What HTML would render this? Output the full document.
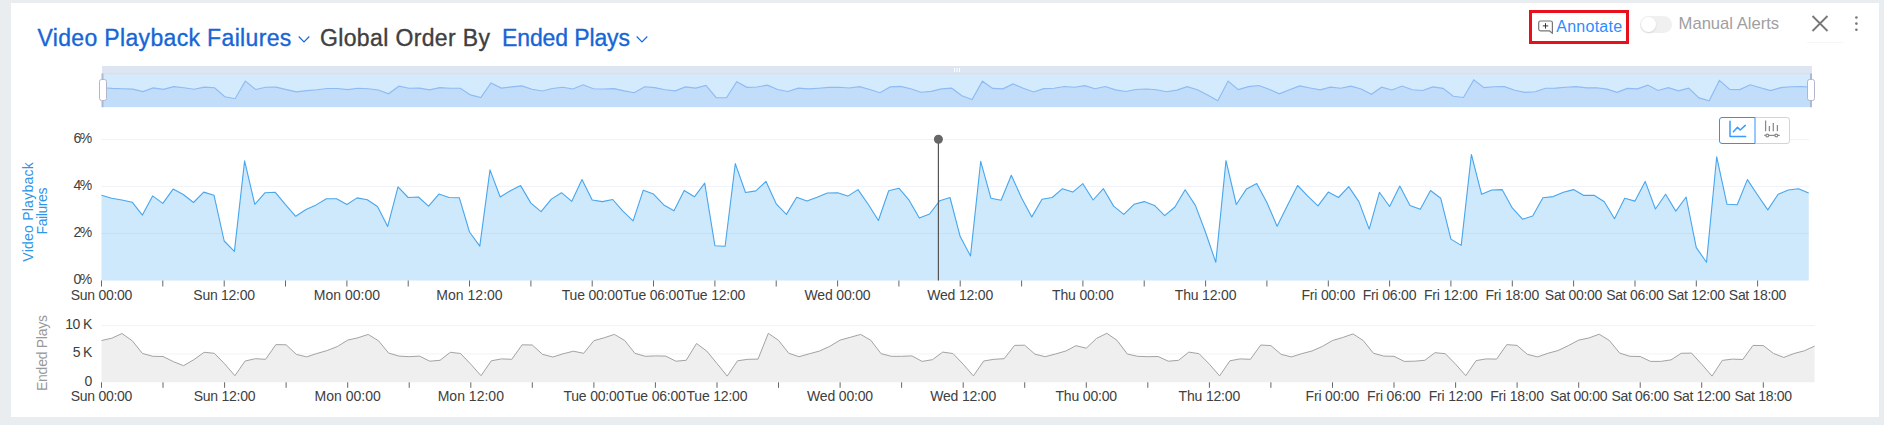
<!DOCTYPE html>
<html lang="en">
<head>
<meta charset="utf-8">
<title>Video Playback Failures</title>
<style>
html,body{margin:0;padding:0}
body{width:1884px;height:425px;overflow:hidden;background:#e9edf0;position:relative;font-family:"Liberation Sans",sans-serif}
.card{position:absolute;left:11px;top:3px;width:1868px;height:414px;background:#fff}
.title{position:absolute;left:37px;top:22px;height:32px;line-height:32px;font-size:23px;white-space:nowrap;color:#404040}
.title span{position:absolute;top:0;white-space:nowrap;-webkit-text-stroke:0.35px currentColor}
.blue{color:#1766d6}
.chev{position:absolute}
.annot-box{position:absolute;left:1529px;top:10px;width:94px;height:28px;border:3px solid #e6111c}
.annot{position:absolute;left:1556.3px;top:14.5px;font-size:16px;letter-spacing:0.25px;line-height:24px;color:#2d8cff;white-space:nowrap}
.switch{position:absolute;left:1640px;top:16px;width:32px;height:17px;border-radius:9px;background:#f0f0f0}
.switch i{position:absolute;left:1px;top:1px;width:15px;height:15px;border-radius:50%;background:#fff;box-shadow:0 1px 2px rgba(0,0,0,.12)}
.manual{position:absolute;left:1678.6px;top:12px;font-size:16.6px;line-height:24px;color:#a0a0a0;white-space:nowrap}
.underline{position:absolute;left:1807px;top:42px;width:36px;height:1px;background:#f6f6f8}
</style>
</head>
<body>
<div class="card"></div>
<div class="title">
<span class="blue" id="t1" style="left:0.5px;letter-spacing:0.34px">Video Playback Failures</span>
<span id="t2" style="left:283px;letter-spacing:0.36px">Global Order By</span>
<span class="blue" id="t3" style="left:465px;letter-spacing:-0.12px">Ended Plays</span>
</div>
<svg class="chev" style="left:298px;top:35px" width="12" height="9" viewBox="0 0 12 9"><path d="M0.7 1.5 L6 7 L11.3 1.5" fill="none" stroke="#1766d6" stroke-width="1.1"/></svg>
<svg class="chev" style="left:636px;top:35px" width="12" height="9" viewBox="0 0 12 9"><path d="M0.7 1.5 L6 7 L11.3 1.5" fill="none" stroke="#1766d6" stroke-width="1.1"/></svg>
<div class="annot-box"></div>
<div class="annot" id="annot">Annotate</div>
<div class="switch"><i></i></div>
<div class="manual" id="manual">Manual Alerts</div>
<div class="underline"></div>
<svg width="1884" height="425" viewBox="0 0 1884 425" style="position:absolute;left:0;top:0">
<g id="navigator">
<rect x="102" y="66" width="1710" height="8.5" fill="#dde5f3"/>
<rect x="102" y="73.3" width="1710" height="1.4" fill="#d5dff1"/>
<rect x="102" y="74.7" width="1710" height="32.5" fill="#d4eafd"/>
<polygon points="102.0,107 102.0,87.8 112.2,88.4 122.5,88.7 132.7,89.1 142.9,91.6 153.2,87.9 163.4,89.4 173.7,86.6 183.9,87.7 194.1,89.2 204.4,87.2 214.6,87.8 224.8,96.7 235.1,98.7 245.3,81.1 255.6,89.5 265.8,87.3 276.0,87.2 286.3,89.6 296.5,91.9 306.7,90.6 317.0,89.7 327.2,88.5 337.5,88.5 347.7,89.6 357.9,88.3 368.2,88.7 378.4,90.0 388.6,93.8 398.9,86.2 409.1,88.2 419.3,88.1 429.6,89.9 439.8,87.6 450.1,88.2 460.3,88.3 470.5,94.9 480.8,97.6 491.0,82.9 501.2,88.1 511.5,86.9 521.7,85.9 532.0,89.3 542.2,91.0 552.4,88.5 562.7,87.3 572.9,89.0 583.1,84.8 593.4,88.7 603.6,89.0 613.9,88.6 624.1,90.9 634.3,92.7 644.6,86.8 654.8,87.6 665.0,89.7 675.3,90.8 685.5,86.9 695.7,88.1 706.0,85.5 716.2,97.6 726.5,97.7 736.7,81.7 746.9,87.3 757.2,87.0 767.4,85.1 777.6,89.5 787.9,91.5 798.1,88.2 808.4,88.9 818.6,88.2 828.8,87.4 839.1,87.3 849.3,88.0 859.5,86.7 869.8,89.5 880.0,92.7 890.2,86.9 900.5,86.4 910.7,88.8 921.0,92.2 931.2,91.4 941.4,88.9 951.7,88.2 961.9,95.8 972.1,99.5 982.4,81.2 992.6,88.4 1002.9,88.8 1013.1,83.9 1023.3,88.3 1033.6,92.0 1043.8,88.6 1054.0,88.2 1064.3,86.5 1074.5,87.2 1084.8,85.6 1095.0,88.7 1105.2,86.5 1115.5,89.9 1125.7,91.5 1135.9,89.5 1146.2,89.0 1156.4,89.8 1166.6,91.7 1176.9,90.1 1187.1,86.7 1197.4,89.8 1207.6,95.0 1217.8,100.8 1228.1,81.1 1238.3,89.6 1248.5,86.6 1258.8,85.5 1269.0,89.2 1279.3,93.8 1289.5,89.8 1299.7,85.9 1310.0,88.0 1320.2,89.9 1330.4,87.2 1340.7,88.2 1350.9,86.1 1361.2,89.0 1371.4,94.3 1381.6,87.2 1391.9,90.0 1402.1,86.0 1412.3,89.8 1422.6,90.5 1432.8,86.9 1443.0,88.4 1453.3,96.3 1463.5,97.5 1473.8,79.9 1484.0,87.6 1494.2,86.8 1504.5,86.7 1514.7,90.2 1524.9,92.4 1535.2,91.8 1545.4,88.3 1555.7,88.1 1565.9,87.2 1576.1,86.7 1586.4,87.8 1596.6,87.8 1606.8,89.1 1617.1,92.3 1627.3,88.4 1637.5,88.9 1647.8,85.1 1658.0,90.5 1668.3,87.6 1678.5,90.9 1688.7,88.1 1699.0,97.9 1709.2,100.8 1719.4,80.4 1729.7,89.5 1739.9,89.6 1750.2,84.8 1760.4,87.7 1770.6,90.6 1780.9,87.6 1791.1,86.8 1801.3,86.5 1811.6,87.4 1811.6,107" fill="#c2ddfa"/>
<polyline points="102.0,87.8 112.2,88.4 122.5,88.7 132.7,89.1 142.9,91.6 153.2,87.9 163.4,89.4 173.7,86.6 183.9,87.7 194.1,89.2 204.4,87.2 214.6,87.8 224.8,96.7 235.1,98.7 245.3,81.1 255.6,89.5 265.8,87.3 276.0,87.2 286.3,89.6 296.5,91.9 306.7,90.6 317.0,89.7 327.2,88.5 337.5,88.5 347.7,89.6 357.9,88.3 368.2,88.7 378.4,90.0 388.6,93.8 398.9,86.2 409.1,88.2 419.3,88.1 429.6,89.9 439.8,87.6 450.1,88.2 460.3,88.3 470.5,94.9 480.8,97.6 491.0,82.9 501.2,88.1 511.5,86.9 521.7,85.9 532.0,89.3 542.2,91.0 552.4,88.5 562.7,87.3 572.9,89.0 583.1,84.8 593.4,88.7 603.6,89.0 613.9,88.6 624.1,90.9 634.3,92.7 644.6,86.8 654.8,87.6 665.0,89.7 675.3,90.8 685.5,86.9 695.7,88.1 706.0,85.5 716.2,97.6 726.5,97.7 736.7,81.7 746.9,87.3 757.2,87.0 767.4,85.1 777.6,89.5 787.9,91.5 798.1,88.2 808.4,88.9 818.6,88.2 828.8,87.4 839.1,87.3 849.3,88.0 859.5,86.7 869.8,89.5 880.0,92.7 890.2,86.9 900.5,86.4 910.7,88.8 921.0,92.2 931.2,91.4 941.4,88.9 951.7,88.2 961.9,95.8 972.1,99.5 982.4,81.2 992.6,88.4 1002.9,88.8 1013.1,83.9 1023.3,88.3 1033.6,92.0 1043.8,88.6 1054.0,88.2 1064.3,86.5 1074.5,87.2 1084.8,85.6 1095.0,88.7 1105.2,86.5 1115.5,89.9 1125.7,91.5 1135.9,89.5 1146.2,89.0 1156.4,89.8 1166.6,91.7 1176.9,90.1 1187.1,86.7 1197.4,89.8 1207.6,95.0 1217.8,100.8 1228.1,81.1 1238.3,89.6 1248.5,86.6 1258.8,85.5 1269.0,89.2 1279.3,93.8 1289.5,89.8 1299.7,85.9 1310.0,88.0 1320.2,89.9 1330.4,87.2 1340.7,88.2 1350.9,86.1 1361.2,89.0 1371.4,94.3 1381.6,87.2 1391.9,90.0 1402.1,86.0 1412.3,89.8 1422.6,90.5 1432.8,86.9 1443.0,88.4 1453.3,96.3 1463.5,97.5 1473.8,79.9 1484.0,87.6 1494.2,86.8 1504.5,86.7 1514.7,90.2 1524.9,92.4 1535.2,91.8 1545.4,88.3 1555.7,88.1 1565.9,87.2 1576.1,86.7 1586.4,87.8 1596.6,87.8 1606.8,89.1 1617.1,92.3 1627.3,88.4 1637.5,88.9 1647.8,85.1 1658.0,90.5 1668.3,87.6 1678.5,90.9 1688.7,88.1 1699.0,97.9 1709.2,100.8 1719.4,80.4 1729.7,89.5 1739.9,89.6 1750.2,84.8 1760.4,87.7 1770.6,90.6 1780.9,87.6 1791.1,86.8 1801.3,86.5 1811.6,87.4" fill="none" stroke="#8ebbf3" stroke-width="1.15"/>
<rect x="101.5" y="73.5" width="2" height="33.7" fill="#a9b9d6"/>
<rect x="1810" y="73.5" width="2" height="33.7" fill="#a9b9d6"/>
<rect x="954.0" y="68" width="1" height="4" fill="#ffffff"/>
<rect x="956.5" y="68" width="1" height="4" fill="#ffffff"/>
<rect x="959.0" y="68" width="1" height="4" fill="#ffffff"/>
<rect x="99.5" y="79.5" width="7" height="21" rx="2" fill="#fff" stroke="#b3b5cb" stroke-width="1"/>
<rect x="1807.5" y="79.5" width="7" height="21" rx="2" fill="#fff" stroke="#b3b5cb" stroke-width="1"/>
</g>
<g id="main-chart" font-family="'Liberation Sans', sans-serif" font-size="14" fill="#404040">
<rect x="101" y="139.0" width="1708" height="1" fill="#f2f3f8"/>
<rect x="101" y="186.0" width="1708" height="1" fill="#f2f3f8"/>
<rect x="101" y="233.0" width="1708" height="1" fill="#f2f3f8"/>
<polygon points="101.5,280.5 101.5,195.2 111.7,198.2 121.9,200.0 132.2,202.2 142.4,215.1 152.6,195.9 162.8,203.4 173.1,189.1 183.3,194.5 193.5,202.5 203.7,192.1 214.0,195.2 224.2,241.0 234.4,251.4 244.6,160.9 254.8,204.3 265.1,192.7 275.3,192.3 285.5,204.7 295.7,216.3 306.0,209.5 316.2,204.9 326.4,198.8 336.6,198.8 346.9,204.5 357.1,197.9 367.3,199.7 377.5,206.5 387.7,226.4 398.0,186.9 408.2,197.5 418.4,197.0 428.6,206.1 438.9,194.1 449.1,197.5 459.3,197.7 469.5,232.0 479.8,246.1 490.0,169.9 500.2,197.0 510.4,190.7 520.6,185.6 530.9,203.1 541.1,211.7 551.3,199.1 561.5,192.7 571.8,201.3 582.0,179.6 592.2,200.0 602.4,201.6 612.7,199.5 622.9,211.1 633.1,220.8 643.3,190.2 653.5,194.1 663.8,204.9 674.0,210.8 684.2,190.5 694.4,196.8 704.7,183.2 714.9,245.7 725.1,246.2 735.3,163.6 745.5,192.5 755.8,190.9 766.0,181.4 776.2,203.8 786.4,214.4 796.7,197.3 806.9,201.1 817.1,197.3 827.3,193.0 837.6,192.7 847.8,196.1 858.0,189.6 868.2,204.3 878.4,220.5 888.7,190.7 898.9,188.2 909.1,200.2 919.3,218.1 929.6,214.0 939.8,200.7 950.0,197.5 960.2,236.6 970.5,255.9 980.7,161.3 990.9,198.2 1001.1,200.2 1011.3,175.3 1021.6,197.9 1031.8,216.9 1042.0,199.3 1052.2,197.5 1062.5,188.7 1072.7,192.1 1082.9,183.7 1093.1,200.0 1103.4,188.7 1113.6,206.1 1123.8,214.4 1134.0,204.3 1144.2,201.6 1154.5,205.4 1164.7,215.6 1174.9,207.0 1185.1,189.8 1195.4,205.4 1205.6,232.5 1215.8,262.3 1226.0,160.6 1236.3,204.5 1246.5,188.9 1256.7,183.5 1266.9,202.5 1277.1,226.2 1287.4,205.4 1297.6,185.5 1307.8,196.1 1318.0,205.9 1328.3,192.1 1338.5,197.5 1348.7,186.6 1358.9,201.6 1369.2,229.1 1379.4,192.3 1389.6,206.5 1399.8,186.0 1410.0,205.6 1420.3,209.2 1430.5,190.5 1440.7,198.2 1450.9,239.1 1461.2,245.4 1471.4,154.5 1481.6,194.3 1491.8,190.0 1502.1,189.6 1512.3,207.9 1522.5,219.2 1532.7,216.0 1542.9,197.7 1553.2,196.6 1563.4,192.3 1573.6,189.6 1583.8,195.4 1594.1,195.2 1604.3,201.8 1614.5,218.7 1624.7,198.2 1635.0,201.1 1645.2,181.4 1655.4,209.0 1665.6,194.3 1675.8,211.1 1686.1,197.0 1696.3,247.6 1706.5,262.3 1716.7,156.8 1727.0,204.3 1737.2,204.7 1747.4,179.6 1757.6,195.0 1767.8,209.9 1778.1,194.3 1788.3,190.0 1798.5,188.7 1808.7,193.0 1808.7,280.5" fill="#3da3f3" fill-opacity="0.25"/>
<polyline points="101.5,195.2 111.7,198.2 121.9,200.0 132.2,202.2 142.4,215.1 152.6,195.9 162.8,203.4 173.1,189.1 183.3,194.5 193.5,202.5 203.7,192.1 214.0,195.2 224.2,241.0 234.4,251.4 244.6,160.9 254.8,204.3 265.1,192.7 275.3,192.3 285.5,204.7 295.7,216.3 306.0,209.5 316.2,204.9 326.4,198.8 336.6,198.8 346.9,204.5 357.1,197.9 367.3,199.7 377.5,206.5 387.7,226.4 398.0,186.9 408.2,197.5 418.4,197.0 428.6,206.1 438.9,194.1 449.1,197.5 459.3,197.7 469.5,232.0 479.8,246.1 490.0,169.9 500.2,197.0 510.4,190.7 520.6,185.6 530.9,203.1 541.1,211.7 551.3,199.1 561.5,192.7 571.8,201.3 582.0,179.6 592.2,200.0 602.4,201.6 612.7,199.5 622.9,211.1 633.1,220.8 643.3,190.2 653.5,194.1 663.8,204.9 674.0,210.8 684.2,190.5 694.4,196.8 704.7,183.2 714.9,245.7 725.1,246.2 735.3,163.6 745.5,192.5 755.8,190.9 766.0,181.4 776.2,203.8 786.4,214.4 796.7,197.3 806.9,201.1 817.1,197.3 827.3,193.0 837.6,192.7 847.8,196.1 858.0,189.6 868.2,204.3 878.4,220.5 888.7,190.7 898.9,188.2 909.1,200.2 919.3,218.1 929.6,214.0 939.8,200.7 950.0,197.5 960.2,236.6 970.5,255.9 980.7,161.3 990.9,198.2 1001.1,200.2 1011.3,175.3 1021.6,197.9 1031.8,216.9 1042.0,199.3 1052.2,197.5 1062.5,188.7 1072.7,192.1 1082.9,183.7 1093.1,200.0 1103.4,188.7 1113.6,206.1 1123.8,214.4 1134.0,204.3 1144.2,201.6 1154.5,205.4 1164.7,215.6 1174.9,207.0 1185.1,189.8 1195.4,205.4 1205.6,232.5 1215.8,262.3 1226.0,160.6 1236.3,204.5 1246.5,188.9 1256.7,183.5 1266.9,202.5 1277.1,226.2 1287.4,205.4 1297.6,185.5 1307.8,196.1 1318.0,205.9 1328.3,192.1 1338.5,197.5 1348.7,186.6 1358.9,201.6 1369.2,229.1 1379.4,192.3 1389.6,206.5 1399.8,186.0 1410.0,205.6 1420.3,209.2 1430.5,190.5 1440.7,198.2 1450.9,239.1 1461.2,245.4 1471.4,154.5 1481.6,194.3 1491.8,190.0 1502.1,189.6 1512.3,207.9 1522.5,219.2 1532.7,216.0 1542.9,197.7 1553.2,196.6 1563.4,192.3 1573.6,189.6 1583.8,195.4 1594.1,195.2 1604.3,201.8 1614.5,218.7 1624.7,198.2 1635.0,201.1 1645.2,181.4 1655.4,209.0 1665.6,194.3 1675.8,211.1 1686.1,197.0 1696.3,247.6 1706.5,262.3 1716.7,156.8 1727.0,204.3 1737.2,204.7 1747.4,179.6 1757.6,195.0 1767.8,209.9 1778.1,194.3 1788.3,190.0 1798.5,188.7 1808.7,193.0" fill="none" stroke="#47a6ee" stroke-width="1.1" stroke-linejoin="round"/>
<rect x="101.0" y="280.5" width="1" height="6" fill="#666"/>
<rect x="162.3" y="280.5" width="1" height="6" fill="#666"/>
<rect x="223.7" y="280.5" width="1" height="6" fill="#666"/>
<rect x="285.0" y="280.5" width="1" height="6" fill="#666"/>
<rect x="346.4" y="280.5" width="1" height="6" fill="#666"/>
<rect x="407.7" y="280.5" width="1" height="6" fill="#666"/>
<rect x="469.0" y="280.5" width="1" height="6" fill="#666"/>
<rect x="530.4" y="280.5" width="1" height="6" fill="#666"/>
<rect x="591.7" y="280.5" width="1" height="6" fill="#666"/>
<rect x="653.0" y="280.5" width="1" height="6" fill="#666"/>
<rect x="714.4" y="280.5" width="1" height="6" fill="#666"/>
<rect x="775.7" y="280.5" width="1" height="6" fill="#666"/>
<rect x="837.1" y="280.5" width="1" height="6" fill="#666"/>
<rect x="898.4" y="280.5" width="1" height="6" fill="#666"/>
<rect x="959.7" y="280.5" width="1" height="6" fill="#666"/>
<rect x="1021.1" y="280.5" width="1" height="6" fill="#666"/>
<rect x="1082.4" y="280.5" width="1" height="6" fill="#666"/>
<rect x="1143.7" y="280.5" width="1" height="6" fill="#666"/>
<rect x="1205.1" y="280.5" width="1" height="6" fill="#666"/>
<rect x="1266.4" y="280.5" width="1" height="6" fill="#666"/>
<rect x="1327.8" y="280.5" width="1" height="6" fill="#666"/>
<rect x="1389.1" y="280.5" width="1" height="6" fill="#666"/>
<rect x="1450.4" y="280.5" width="1" height="6" fill="#666"/>
<rect x="1511.8" y="280.5" width="1" height="6" fill="#666"/>
<rect x="1573.1" y="280.5" width="1" height="6" fill="#666"/>
<rect x="1634.5" y="280.5" width="1" height="6" fill="#666"/>
<rect x="1695.8" y="280.5" width="1" height="6" fill="#666"/>
<rect x="1757.1" y="280.5" width="1" height="6" fill="#666"/>
<text x="101.5" y="300" text-anchor="middle" textLength="61.7" lengthAdjust="spacing">Sun 00:00</text>
<text x="224.2" y="300" text-anchor="middle" textLength="61.7" lengthAdjust="spacing">Sun 12:00</text>
<text x="346.9" y="300" text-anchor="middle" textLength="66.3" lengthAdjust="spacing">Mon 00:00</text>
<text x="469.5" y="300" text-anchor="middle" textLength="66.3" lengthAdjust="spacing">Mon 12:00</text>
<text x="592.2" y="300" text-anchor="middle" textLength="61.0" lengthAdjust="spacing">Tue 00:00</text>
<text x="653.5" y="300" text-anchor="middle" textLength="61.0" lengthAdjust="spacing">Tue 06:00</text>
<text x="714.9" y="300" text-anchor="middle" textLength="61.0" lengthAdjust="spacing">Tue 12:00</text>
<text x="837.6" y="300" text-anchor="middle" textLength="66.1" lengthAdjust="spacing">Wed 00:00</text>
<text x="960.2" y="300" text-anchor="middle" textLength="66.1" lengthAdjust="spacing">Wed 12:00</text>
<text x="1082.9" y="300" text-anchor="middle" textLength="61.7" lengthAdjust="spacing">Thu 00:00</text>
<text x="1205.6" y="300" text-anchor="middle" textLength="61.7" lengthAdjust="spacing">Thu 12:00</text>
<text x="1328.3" y="300" text-anchor="middle" textLength="53.8" lengthAdjust="spacing">Fri 00:00</text>
<text x="1389.6" y="300" text-anchor="middle" textLength="53.8" lengthAdjust="spacing">Fri 06:00</text>
<text x="1450.9" y="300" text-anchor="middle" textLength="53.8" lengthAdjust="spacing">Fri 12:00</text>
<text x="1512.3" y="300" text-anchor="middle" textLength="53.8" lengthAdjust="spacing">Fri 18:00</text>
<text x="1573.6" y="300" text-anchor="middle" textLength="57.5" lengthAdjust="spacing">Sat 00:00</text>
<text x="1635.0" y="300" text-anchor="middle" textLength="57.5" lengthAdjust="spacing">Sat 06:00</text>
<text x="1696.3" y="300" text-anchor="middle" textLength="57.5" lengthAdjust="spacing">Sat 12:00</text>
<text x="1757.6" y="300" text-anchor="middle" textLength="57.5" lengthAdjust="spacing">Sat 18:00</text>
<text x="92.3" y="143.4" text-anchor="end" textLength="18.8" lengthAdjust="spacing">6%</text>
<text x="92.3" y="190.4" text-anchor="end" textLength="18.8" lengthAdjust="spacing">4%</text>
<text x="92.3" y="237.4" text-anchor="end" textLength="18.8" lengthAdjust="spacing">2%</text>
<text x="92.3" y="284.4" text-anchor="end" textLength="18.8" lengthAdjust="spacing">0%</text>
<text transform="translate(32.5,212) rotate(-90)" text-anchor="middle" font-size="14" fill="#2e95e8" textLength="99.4" lengthAdjust="spacing">Video Playback</text>
<text transform="translate(46.5,211) rotate(-90)" text-anchor="middle" font-size="14" fill="#2e95e8" textLength="46.8" lengthAdjust="spacing">Failures</text>
<circle cx="938.4" cy="139.3" r="5.4" fill="#fff"/>
<rect x="937.8" y="139" width="1.2" height="141.5" fill="#555"/>
<circle cx="938.4" cy="139.3" r="4.5" fill="#666"/>
</g>
<g id="bottom-chart" font-family="'Liberation Sans', sans-serif" font-size="14" fill="#404040">
<rect x="101" y="325.1" width="1714" height="1" fill="#f2f3f8"/>
<rect x="101" y="353.4" width="1714" height="1" fill="#f2f3f8"/>
<polygon points="101.5,382.3 101.5,340.5 111.8,338.2 122.0,333.5 132.3,340.8 142.5,353.5 152.8,356.3 163.0,356.5 173.3,361.6 183.6,365.7 193.8,359.7 204.1,352.3 214.3,353.3 224.6,363.8 234.9,375.7 245.1,361.0 255.4,358.7 265.6,359.3 275.9,344.6 286.1,344.8 296.4,354.4 306.7,356.9 316.9,353.5 327.2,350.5 337.4,346.5 347.7,340.1 357.9,337.8 368.2,334.4 378.5,340.8 388.7,353.1 399.0,356.1 409.2,356.7 419.5,356.1 429.8,361.2 440.0,360.3 450.3,352.3 460.5,353.5 470.8,364.2 481.0,375.7 491.3,360.8 501.6,358.9 511.8,359.3 522.1,344.8 532.3,345.0 542.6,354.4 552.9,357.0 563.1,353.8 573.4,351.2 583.6,353.3 593.9,340.7 604.1,337.8 614.4,334.4 624.7,340.5 634.9,353.3 645.2,356.3 655.4,355.9 665.7,356.1 675.9,361.2 686.2,360.3 696.5,343.5 706.7,351.0 717.0,363.5 727.2,376.1 737.5,360.8 747.8,359.3 758.0,359.1 768.3,333.3 778.5,340.3 788.8,353.3 799.0,356.7 809.3,353.8 819.6,351.0 829.8,346.3 840.1,340.1 850.3,337.3 860.6,334.4 870.8,340.3 881.1,353.7 891.4,356.3 901.6,356.3 911.9,355.9 922.1,361.4 932.4,359.7 942.7,352.1 952.9,353.5 963.2,364.2 973.4,375.9 983.7,361.0 993.9,359.3 1004.2,358.7 1014.5,345.4 1024.7,345.2 1035.0,354.2 1045.2,356.7 1055.5,354.0 1065.8,351.0 1076.0,345.7 1086.3,348.2 1096.5,338.4 1106.8,333.3 1117.0,340.3 1127.3,354.0 1137.6,356.3 1147.8,356.7 1158.1,356.5 1168.3,361.2 1178.6,360.3 1188.8,352.1 1199.1,353.7 1209.4,364.2 1219.6,375.9 1229.9,360.8 1240.1,358.9 1250.4,359.3 1260.7,345.0 1270.9,345.6 1281.2,354.4 1291.4,356.9 1301.7,353.7 1311.9,351.0 1322.2,346.5 1332.5,340.5 1342.7,337.5 1353.0,333.9 1363.2,340.5 1373.5,353.3 1383.8,356.1 1394.0,356.3 1404.3,361.4 1414.5,361.2 1424.8,360.3 1435.0,352.7 1445.3,353.7 1455.6,364.2 1465.8,375.7 1476.1,360.6 1486.3,358.9 1496.6,359.1 1506.8,344.6 1517.1,345.4 1527.4,354.4 1537.6,356.9 1547.9,353.3 1558.1,350.5 1568.4,345.6 1578.7,340.1 1588.9,338.0 1599.2,334.2 1609.4,340.5 1619.7,353.1 1629.9,356.3 1640.2,356.5 1650.5,361.4 1660.7,361.4 1671.0,359.9 1681.2,353.3 1691.5,353.1 1701.7,364.2 1712.0,376.1 1722.3,360.4 1732.5,359.1 1742.8,359.5 1753.0,345.4 1763.3,345.6 1773.6,353.5 1783.8,357.4 1794.1,353.5 1804.3,350.8 1814.6,346.1 1814.6,382.3" fill="#efefef"/>
<polyline points="101.5,340.5 111.8,338.2 122.0,333.5 132.3,340.8 142.5,353.5 152.8,356.3 163.0,356.5 173.3,361.6 183.6,365.7 193.8,359.7 204.1,352.3 214.3,353.3 224.6,363.8 234.9,375.7 245.1,361.0 255.4,358.7 265.6,359.3 275.9,344.6 286.1,344.8 296.4,354.4 306.7,356.9 316.9,353.5 327.2,350.5 337.4,346.5 347.7,340.1 357.9,337.8 368.2,334.4 378.5,340.8 388.7,353.1 399.0,356.1 409.2,356.7 419.5,356.1 429.8,361.2 440.0,360.3 450.3,352.3 460.5,353.5 470.8,364.2 481.0,375.7 491.3,360.8 501.6,358.9 511.8,359.3 522.1,344.8 532.3,345.0 542.6,354.4 552.9,357.0 563.1,353.8 573.4,351.2 583.6,353.3 593.9,340.7 604.1,337.8 614.4,334.4 624.7,340.5 634.9,353.3 645.2,356.3 655.4,355.9 665.7,356.1 675.9,361.2 686.2,360.3 696.5,343.5 706.7,351.0 717.0,363.5 727.2,376.1 737.5,360.8 747.8,359.3 758.0,359.1 768.3,333.3 778.5,340.3 788.8,353.3 799.0,356.7 809.3,353.8 819.6,351.0 829.8,346.3 840.1,340.1 850.3,337.3 860.6,334.4 870.8,340.3 881.1,353.7 891.4,356.3 901.6,356.3 911.9,355.9 922.1,361.4 932.4,359.7 942.7,352.1 952.9,353.5 963.2,364.2 973.4,375.9 983.7,361.0 993.9,359.3 1004.2,358.7 1014.5,345.4 1024.7,345.2 1035.0,354.2 1045.2,356.7 1055.5,354.0 1065.8,351.0 1076.0,345.7 1086.3,348.2 1096.5,338.4 1106.8,333.3 1117.0,340.3 1127.3,354.0 1137.6,356.3 1147.8,356.7 1158.1,356.5 1168.3,361.2 1178.6,360.3 1188.8,352.1 1199.1,353.7 1209.4,364.2 1219.6,375.9 1229.9,360.8 1240.1,358.9 1250.4,359.3 1260.7,345.0 1270.9,345.6 1281.2,354.4 1291.4,356.9 1301.7,353.7 1311.9,351.0 1322.2,346.5 1332.5,340.5 1342.7,337.5 1353.0,333.9 1363.2,340.5 1373.5,353.3 1383.8,356.1 1394.0,356.3 1404.3,361.4 1414.5,361.2 1424.8,360.3 1435.0,352.7 1445.3,353.7 1455.6,364.2 1465.8,375.7 1476.1,360.6 1486.3,358.9 1496.6,359.1 1506.8,344.6 1517.1,345.4 1527.4,354.4 1537.6,356.9 1547.9,353.3 1558.1,350.5 1568.4,345.6 1578.7,340.1 1588.9,338.0 1599.2,334.2 1609.4,340.5 1619.7,353.1 1629.9,356.3 1640.2,356.5 1650.5,361.4 1660.7,361.4 1671.0,359.9 1681.2,353.3 1691.5,353.1 1701.7,364.2 1712.0,376.1 1722.3,360.4 1732.5,359.1 1742.8,359.5 1753.0,345.4 1763.3,345.6 1773.6,353.5 1783.8,357.4 1794.1,353.5 1804.3,350.8 1814.6,346.1" fill="none" stroke="#a3a3a3" stroke-width="1"/>
<rect x="101.0" y="382.3" width="1" height="5.5" fill="#666"/>
<rect x="162.5" y="382.3" width="1" height="5.5" fill="#666"/>
<rect x="224.1" y="382.3" width="1" height="5.5" fill="#666"/>
<rect x="285.6" y="382.3" width="1" height="5.5" fill="#666"/>
<rect x="347.2" y="382.3" width="1" height="5.5" fill="#666"/>
<rect x="408.7" y="382.3" width="1" height="5.5" fill="#666"/>
<rect x="470.3" y="382.3" width="1" height="5.5" fill="#666"/>
<rect x="531.8" y="382.3" width="1" height="5.5" fill="#666"/>
<rect x="593.4" y="382.3" width="1" height="5.5" fill="#666"/>
<rect x="654.9" y="382.3" width="1" height="5.5" fill="#666"/>
<rect x="716.5" y="382.3" width="1" height="5.5" fill="#666"/>
<rect x="778.0" y="382.3" width="1" height="5.5" fill="#666"/>
<rect x="839.6" y="382.3" width="1" height="5.5" fill="#666"/>
<rect x="901.1" y="382.3" width="1" height="5.5" fill="#666"/>
<rect x="962.7" y="382.3" width="1" height="5.5" fill="#666"/>
<rect x="1024.2" y="382.3" width="1" height="5.5" fill="#666"/>
<rect x="1085.8" y="382.3" width="1" height="5.5" fill="#666"/>
<rect x="1147.3" y="382.3" width="1" height="5.5" fill="#666"/>
<rect x="1208.9" y="382.3" width="1" height="5.5" fill="#666"/>
<rect x="1270.4" y="382.3" width="1" height="5.5" fill="#666"/>
<rect x="1332.0" y="382.3" width="1" height="5.5" fill="#666"/>
<rect x="1393.5" y="382.3" width="1" height="5.5" fill="#666"/>
<rect x="1455.1" y="382.3" width="1" height="5.5" fill="#666"/>
<rect x="1516.6" y="382.3" width="1" height="5.5" fill="#666"/>
<rect x="1578.2" y="382.3" width="1" height="5.5" fill="#666"/>
<rect x="1639.7" y="382.3" width="1" height="5.5" fill="#666"/>
<rect x="1701.2" y="382.3" width="1" height="5.5" fill="#666"/>
<rect x="1762.8" y="382.3" width="1" height="5.5" fill="#666"/>
<text x="101.5" y="400.6" text-anchor="middle" textLength="61.7" lengthAdjust="spacing">Sun 00:00</text>
<text x="224.6" y="400.6" text-anchor="middle" textLength="61.7" lengthAdjust="spacing">Sun 12:00</text>
<text x="347.7" y="400.6" text-anchor="middle" textLength="66.3" lengthAdjust="spacing">Mon 00:00</text>
<text x="470.8" y="400.6" text-anchor="middle" textLength="66.3" lengthAdjust="spacing">Mon 12:00</text>
<text x="593.9" y="400.6" text-anchor="middle" textLength="61.0" lengthAdjust="spacing">Tue 00:00</text>
<text x="655.4" y="400.6" text-anchor="middle" textLength="61.0" lengthAdjust="spacing">Tue 06:00</text>
<text x="717.0" y="400.6" text-anchor="middle" textLength="61.0" lengthAdjust="spacing">Tue 12:00</text>
<text x="840.1" y="400.6" text-anchor="middle" textLength="66.1" lengthAdjust="spacing">Wed 00:00</text>
<text x="963.2" y="400.6" text-anchor="middle" textLength="66.1" lengthAdjust="spacing">Wed 12:00</text>
<text x="1086.3" y="400.6" text-anchor="middle" textLength="61.7" lengthAdjust="spacing">Thu 00:00</text>
<text x="1209.4" y="400.6" text-anchor="middle" textLength="61.7" lengthAdjust="spacing">Thu 12:00</text>
<text x="1332.5" y="400.6" text-anchor="middle" textLength="53.8" lengthAdjust="spacing">Fri 00:00</text>
<text x="1394.0" y="400.6" text-anchor="middle" textLength="53.8" lengthAdjust="spacing">Fri 06:00</text>
<text x="1455.6" y="400.6" text-anchor="middle" textLength="53.8" lengthAdjust="spacing">Fri 12:00</text>
<text x="1517.1" y="400.6" text-anchor="middle" textLength="53.8" lengthAdjust="spacing">Fri 18:00</text>
<text x="1578.7" y="400.6" text-anchor="middle" textLength="57.5" lengthAdjust="spacing">Sat 00:00</text>
<text x="1640.2" y="400.6" text-anchor="middle" textLength="57.5" lengthAdjust="spacing">Sat 06:00</text>
<text x="1701.7" y="400.6" text-anchor="middle" textLength="57.5" lengthAdjust="spacing">Sat 12:00</text>
<text x="1763.3" y="400.6" text-anchor="middle" textLength="57.5" lengthAdjust="spacing">Sat 18:00</text>
<text x="92.3" y="329.0" text-anchor="end" textLength="27.1" lengthAdjust="spacing">10 K</text>
<text x="92.3" y="357.3" text-anchor="end" textLength="19.5" lengthAdjust="spacing">5 K</text>
<text x="92.3" y="385.7" text-anchor="end" textLength="7.7" lengthAdjust="spacing">0</text>
<text transform="translate(47,353) rotate(-90)" text-anchor="middle" font-size="14" fill="#999" textLength="76" lengthAdjust="spacing">Ended Plays</text>
</g>
<g id="chart-type">
<path d="M1755 117.5 H1787 a2.5 2.5 0 0 1 2.5 2.5 V141 a2.5 2.5 0 0 1 -2.5 2.5 H1755" fill="#fff" stroke="#d4d4d4"/>
<path d="M1755 117.5 H1722 a2.5 2.5 0 0 0 -2.5 2.5 V141 a2.5 2.5 0 0 0 2.5 2.5 H1755 Z" fill="#fff" stroke="#2b93ff"/>
<path d="M1730 121.2 V136.5 H1745.6" fill="none" stroke="#3b9bff" stroke-width="1.5" stroke-linecap="round" stroke-linejoin="round"/>
<path d="M1733.4 131.8 L1737.5 127.2 L1740.2 130 L1745.3 125.4" fill="none" stroke="#3b9bff" stroke-width="1.5" stroke-linecap="round" stroke-linejoin="round"/>
<g stroke="#8a8a8a" stroke-width="1.25" fill="none">
<path d="M1765.6 120.4 V131.3 M1769.4 126 V131.3 M1773.3 123 V131.3 M1777.4 125 V131.3"/>
<path d="M1764.2 135.4 H1779.8" />
<circle cx="1767.3" cy="135.4" r="1.4" fill="#fff"/><circle cx="1776.3" cy="135.4" r="1.4" fill="#fff"/>
</g></g>
<g id="header-icons">
<path d="M1540.5 21 H1550.6 a1.8 1.8 0 0 1 1.8 1.8 V33.4 L1549.4 30.8 H1540.5 a1.8 1.8 0 0 1 -1.8 -1.8 V22.8 a1.8 1.8 0 0 1 1.8 -1.8 Z" fill="#fff" stroke="#777" stroke-width="1.2" stroke-linejoin="round"/>
<path d="M1545.5 23.2 V28.6 M1542.8 25.9 H1548.2" stroke="#333" stroke-width="1" fill="none"/>
<path d="M1812.5 16 L1827.5 31 M1827.5 16 L1812.5 31" stroke="#777" stroke-width="1.8" fill="none"/>
<circle cx="1856.4" cy="17.5" r="1.3" fill="#777"/>
<circle cx="1856.4" cy="23.6" r="1.3" fill="#777"/>
<circle cx="1856.4" cy="29.7" r="1.3" fill="#777"/>
</g>
</svg>
</body>
</html>
